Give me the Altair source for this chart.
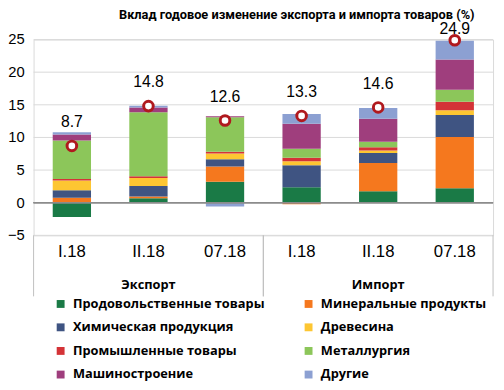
import altair as alt
import pandas as pd

categories = ["I.18", "II.18", "07.18", "I.18", "II.18", "07.18"]
groups = ["Экспорт", "Экспорт", "Экспорт", "Импорт", "Импорт", "Импорт"]
series_names = [
    "Продовольственные товары", "Минеральные продукты",
    "Химическая продукция", "Древесина",
    "Промышленные товары", "Металлургия",
    "Машиностроение", "Другие",
]
food = [-2.2, 0.7, 3.2, 2.35, 1.75, 2.2]
mineral = [0.75, 0.25, 2.35, -0.25, 4.35, 7.85]
chemical = [1.15, 1.6, 1.1, 3.4, 1.5, 3.4]
wood = [1.5, 1.25, 0.9, 0.6, 0.4, 0.7]
industrial = [0.25, 0.25, 0.25, 0.55, 0.5, 1.3]
metal = [5.9, 9.8, 5.3, 1.35, 0.85, 1.85]
machinery = [0.9, 0.75, 0.15, 3.85, 3.5, 4.65]
other = [0.35, 0.25, -0.6, 1.5, 1.65, 2.85]
totals = [8.7, 14.8, 12.6, 13.3, 14.6, 24.9]
colors = ["#1a7a46", "#f5781e", "#3f5482", "#fdc632",
          "#d43337", "#8cc65a", "#9f3e7d", "#8ca0d2"]
y_ticks = [-5, 0, 5, 10, 15, 20, 25]

series_values = [food, mineral, chemical, wood, industrial, metal, machinery, other]
rows = []
for s_idx, (name, vals) in enumerate(zip(series_names, series_values)):
    for i, v in enumerate(vals):
        rows.append({"idx": i, "cat": categories[i], "grp": groups[i],
                     "series": name, "order": s_idx, "value": v})
df = pd.DataFrame(rows)

tot_df = pd.DataFrame({"idx": list(range(len(categories))), "cat": categories,
                       "grp": groups, "total": totals})
tot_df["label"] = [f"{v:.1f}" for v in totals]
tick_df = pd.DataFrame({"t": y_ticks})

# legend fills columns top-to-bottom: two columns of four
legend_order = series_names[0::2] + series_names[1::2]
legend_colors = colors[0::2] + colors[1::2]

n = len(categories)
xscale = alt.Scale(domain=[0, n], nice=False, zero=False)
yscale = alt.Scale(domain=[-5, 25], nice=False, zero=False)
W, H = 467, 199

# horizontal grid and y tick labels, placed through the y scale
ygrid = alt.Chart(tick_df).mark_rule(color="#d9d9d9", strokeWidth=1).encode(
    y=alt.Y("t:Q", scale=yscale, axis=None),
    x=alt.value(0), x2=alt.value(W),
)
ylabels = alt.Chart(tick_df).mark_text(
    align="right", baseline="middle", fontSize=15, font="Liberation Sans",
    color="#000000").encode(
    y=alt.Y("t:Q", scale=yscale, axis=None),
    x=alt.value(-9),
    text=alt.Text("t:Q", format="d"),
)

bars = alt.Chart(df).transform_stack(
    stack="value", groupby=["idx"], sort=[alt.SortField("order", "ascending")],
    as_=["y0", "y1"], offset="zero"
).transform_calculate(
    x0="datum.idx + 0.25", x1="datum.idx + 0.75"
).mark_bar().encode(
    x=alt.X("x0:Q", scale=xscale, title=None,
            axis=alt.Axis(values=list(range(n + 1)), grid=True, gridColor="#d9d9d9",
                          ticks=True, tickSize=31, tickColor="#bfbfbf", labels=False,
                          domain=False)),
    x2="x1:Q",
    y=alt.Y("y0:Q", scale=yscale, axis=None),
    y2="y1:Q",
    color=alt.Color("series:N", scale=alt.Scale(domain=legend_order, range=legend_colors),
                    legend=alt.Legend(orient="none", legendX=21, legendY=262, columns=2,
                                      title=None, symbolType="square", symbolSize=64,
                                      symbolStrokeWidth=0, labelFontSize=13,
                                      labelFont="Open Sans", labelFontWeight="bold",
                                      labelColor="#000000", rowPadding=10,
                                      columnPadding=38, labelOffset=6, labelLimit=300)),
)

zero = alt.Chart(tot_df).mark_rule(color="#8c8c8c", strokeWidth=1).encode(
    y=alt.datum(0, scale=yscale, axis=None)
)

base_tot = alt.Chart(tot_df).transform_calculate(xc="datum.idx + 0.5")

points = base_tot.mark_point(shape="circle", filled=True, fill="#ffffff", stroke="#b0191e",
                             strokeWidth=3, size=95, opacity=1).encode(
    x=alt.X("xc:Q", scale=xscale, axis=None),
    y=alt.Y("total:Q", scale=yscale, axis=None),
)

labels = base_tot.transform_filter(f"datum.idx < {n - 1}").mark_text(
    dy=-24, fontSize=16, font="Liberation Sans", color="#000000").encode(
    x=alt.X("xc:Q", scale=xscale, axis=None),
    y=alt.Y("total:Q", scale=yscale, axis=None),
    text="label:N",
)
label_last = base_tot.transform_filter(f"datum.idx == {n - 1}").mark_text(
    dy=-11, fontSize=16, font="Liberation Sans", color="#000000").encode(
    x=alt.X("xc:Q", scale=xscale, axis=None),
    y=alt.Y("total:Q", scale=yscale, axis=None),
    text="label:N",
)

cat_text = base_tot.mark_text(fontSize=17, font="Liberation Sans", color="#000000",
                              baseline="middle").encode(
    x=alt.X("xc:Q", scale=xscale, axis=None),
    y=alt.value(H + 17),
    text="cat:N",
)

grp_text = base_tot.transform_aggregate(
    xc="mean(xc)", groupby=["grp"]
).mark_text(fontSize=13, font="Open Sans", fontWeight="bold", color="#000000",
            baseline="middle").encode(
    x=alt.X("xc:Q", scale=xscale, axis=None),
    y=alt.value(H + 51),
    text="grp:N",
)

grp_bounds = base_tot.transform_aggregate(
    lo="min(idx)", hi="max(idx)", groupby=["grp"]
).transform_calculate(hi1="datum.hi + 1").transform_fold(
    ["lo", "hi1"], as_=["k", "b"]
).mark_rule(color="#bfbfbf", strokeWidth=1).encode(
    x=alt.X("b:Q", scale=xscale, axis=None),
    y=alt.value(H),
    y2=alt.value(H + 62),
)

chart = alt.layer(
    ygrid, ylabels, bars, zero, grp_bounds, points, labels, label_last, cat_text, grp_text
).properties(
    width=W, height=H,
    autosize="none",
    padding={"left": 26, "top": 29, "right": 3, "bottom": 146},
    title=alt.Title("Вклад годовое изменение экспорта и импорта товаров (%)",
                    fontSize=13, font="Roboto", fontWeight="bold",
                    color="#000000", anchor="middle", dx=34, dy=6, offset=6),
).configure_view(stroke="#d9d9d9")

chart.save("out.html", embed_options={"renderer": "svg", "actions": False})
